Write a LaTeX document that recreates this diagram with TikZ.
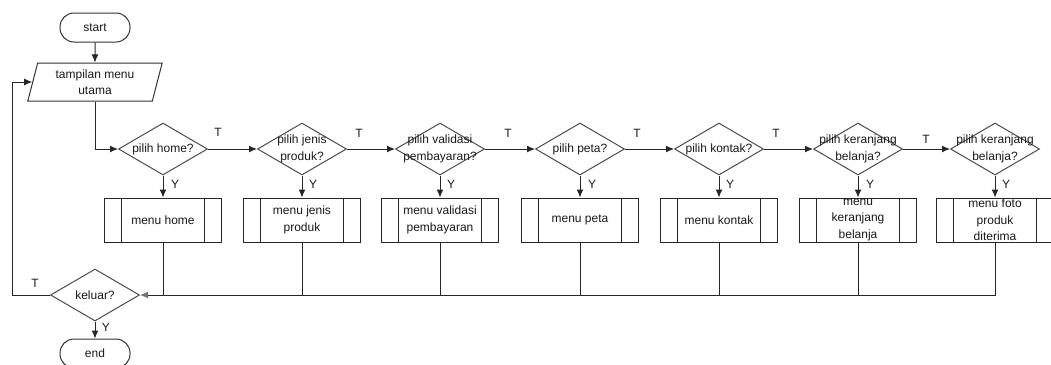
\documentclass[tikz,border=0pt]{standalone}
\usepackage{fontspec}
\setmainfont{Liberation Sans}
\usetikzlibrary{shapes.geometric,arrows.meta}

\begin{document}
\begin{tikzpicture}[x=1pt,y=-1pt,
    txt/.style={font=\fontsize{12}{16.5}\selectfont, text=black!90, align=center},
    term/.style={draw=black!80, line width=1pt, rounded corners=14pt, minimum width=70pt, minimum height=29pt, txt},
    io/.style={draw=black!80, line width=1pt, trapezium, trapezium left angle=75, trapezium right angle=105,
        trapezium stretches=true, minimum width=135pt, minimum height=38pt, inner sep=0pt, txt},
    decision/.style={draw=black!70, line width=1pt, diamond, minimum width=89pt, minimum height=52pt, inner sep=0pt},
    proc/.style={draw=black!85, line width=1pt, minimum width=117pt, minimum height=44pt, inner sep=0pt,
        path picture={\draw[black!85, line width=1pt]
            ([xshift=17pt]path picture bounding box.north west) -- ([xshift=17pt]path picture bounding box.south west)
            ([xshift=-17pt]path picture bounding box.north east) -- ([xshift=-17pt]path picture bounding box.south east);}},
    arr/.style={draw=black!85, line width=1pt, -{Latex[length=8pt,width=7pt]}},
    line/.style={draw=black!85, line width=1pt}]

    % Fix the size of the page
    \useasboundingbox (0,0) rectangle (1051,364);

    % Start, main menu and exit
    \node[term] (start) at (95,27.5) {start};
    \node[io] (menu) at (95,82) {tampilan menu\\utama};
    \node[decision, label={[txt]center:keluar?}] (k) at (95,295) {};
    \node[term] (end) at (95,353.5) {end};

    % Decisions
    \node[decision, label={[txt]center:pilih home?}] (d1) at (163,149) {};
    \node[decision, label={[txt]center:pilih jenis\\produk?}] (d2) at (302,149) {};
    \node[decision, label={[txt]center:pilih validasi\\pembayaran?}] (d3) at (440,149) {};
    \node[decision, label={[txt]center:pilih peta?}] (d4) at (580,149) {};
    \node[decision, label={[txt]center:pilih kontak?}] (d5) at (719,149) {};
    \node[decision, label={[txt]center:pilih keranjang\\belanja?}] (d6) at (858,149) {};
    \node[decision, label={[txt]center:pilih keranjang\\belanja?}] (d7) at (995,149) {};

    % Sub menus
    \node[proc, label={[txt]center:menu home}] (b1) at (163,220) {};
    \node[proc, label={[txt]center:menu jenis\\produk}] (b2) at (302,220) {};
    \node[proc, label={[txt]center:menu validasi\\pembayaran}] (b3) at (440,220) {};
    \node[proc, label={[txt]center:menu peta}] (b4) at (580,220) {};
    \node[proc, label={[txt]center:menu kontak}] (b5) at (719,220) {};
    \node[proc, label={[txt]center:menu\\keranjang\\belanja}] (b6) at (858,220) {};
    \node[proc, label={[txt]center:menu foto\\produk\\diterima}] (b7) at (995,220) {};

    % Main flow
    \draw[arr] (start) -- (menu);
    \draw[arr] (menu.south) |- (d1.west);
    \draw[arr] (d1) -- (d2);
    \draw[arr] (d2) -- (d3);
    \draw[arr] (d3) -- (d4);
    \draw[arr] (d4) -- (d5);
    \draw[arr] (d5) -- (d6);
    \draw[arr] (d6) -- (d7);

    % Yes branches
    \draw[arr] (d1) -- (b1);
    \draw[arr] (d2) -- (b2);
    \draw[arr] (d3) -- (b3);
    \draw[arr] (d4) -- (b4);
    \draw[arr] (d5) -- (b5);
    \draw[arr] (d6) -- (b6);
    \draw[arr] (d7) -- (b7);

    % Back to keluar
    \draw[line] (b1.south) -- (b1.south |- k.east);
    \draw[line] (b2.south) -- (b2.south |- k.east);
    \draw[line] (b3.south) -- (b3.south |- k.east);
    \draw[line] (b4.south) -- (b4.south |- k.east);
    \draw[line] (b5.south) -- (b5.south |- k.east);
    \draw[line] (b6.south) -- (b6.south |- k.east);
    \draw[line, -{Latex[length=8pt,width=7pt,color=black!55]}] (b7.south) |- (k.east);
    \draw[arr] (k) -- (end);
    \draw[arr] (k.west) -- ++(-38,0) |- (menu.west);

    % T and Y labels
    \node[txt] (t1) at (218,132) {T};
    \node[txt] (t2) at (359,133) {T};
    \node[txt] (t3) at (508,133) {T};
    \node[txt] (t4) at (637,133) {T};
    \node[txt] (t5) at (776,133) {T};
    \node[txt] (t6) at (926,139) {T};
    \node[txt] (tk) at (35,283) {T};
    \node[txt] (y1) at (175,184) {Y};
    \node[txt] (y2) at (313,184) {Y};
    \node[txt] (y3) at (451,184) {Y};
    \node[txt] (y4) at (592,184) {Y};
    \node[txt] (y5) at (730,184) {Y};
    \node[txt] (y6) at (870,184) {Y};
    \node[txt] (y7) at (1006,184) {Y};
    \node[txt] (yk) at (106,327) {Y};
\end{tikzpicture}
\end{document}
